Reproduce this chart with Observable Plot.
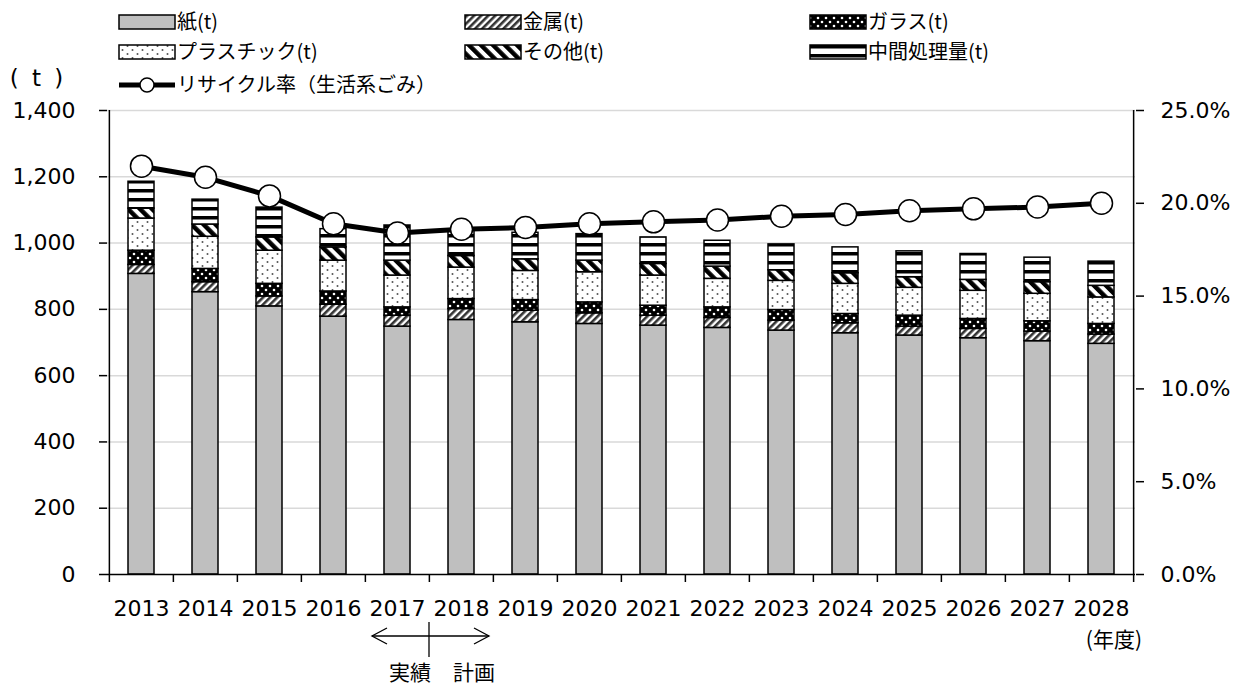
<!DOCTYPE html>
<html>
<head>
<meta charset="utf-8">
<script src="https://cdn.jsdelivr.net/npm/d3@7"></script>
<script src="https://cdn.jsdelivr.net/npm/@observablehq/plot@0.6"></script>
<style>
  html, body { margin: 0; padding: 0; background: #fff; }
  #chart svg { display: block; }
</style>
</head>
<body>
<div id="chart"></div>
<script>
// Fiscal years
const years = ["2013","2014","2015","2016","2017","2018","2019","2020","2021","2022","2023","2024","2025","2026","2027","2028"];

// Resource collection by material (t)
const paper   = [907, 852, 809, 778, 748, 768, 761, 756, 751, 744, 736, 728, 721, 713, 704, 696];
const metal   = [27, 30, 30, 36, 33, 33, 35, 32, 30, 30, 30, 30, 27, 28, 29, 28];
const glass   = [43, 40, 38, 40, 25, 30, 32, 33, 30, 32, 32, 28, 33, 30, 31, 32];
const plastic = [97, 97, 100, 93, 96, 95, 88, 91, 91, 86, 88, 91, 84, 85, 83, 80];
const other   = [30, 37, 40, 40, 45, 35, 35, 35, 35, 37, 32, 32, 32, 33, 35, 35];
const interim = [81, 75, 90, 55, 106, 80, 80, 80, 80, 78, 78, 78, 78, 78, 74, 73];

// Recycling rate of household waste (%)
const recycleRate = [22.0, 21.4, 20.4, 18.9, 18.4, 18.6, 18.7, 18.9, 19.0, 19.1, 19.3, 19.4, 19.6, 19.7, 19.8, 20.0];

// Series names (legend order = stacking order, bottom to top)
const seriesNames = ["紙(t)", "金属(t)", "ガラス(t)", "プラスチック(t)", "その他(t)", "中間処理量(t)"];
const seriesFills = ["#bfbfbf", "url(#pat-metal)", "url(#pat-glass)", "url(#pat-plastic)", "url(#pat-other)", "url(#pat-interim)"];
const rateName = "リサイクル率（生活系ごみ）";

// Axis ticks
const leftTicks = [0, 200, 400, 600, 800, 1000, 1200, 1400];
const rightTicks = [0, 5, 10, 15, 20, 25];
const yMax = 1400, rateMax = 25;
const k = yMax / rateMax; // maps the percentage axis onto the tonnage axis

const seriesValues = [paper, metal, glass, plastic, other, interim];
const stackRows = seriesNames.flatMap((s, j) => years.map((year, i) => ({year, series: s, value: seriesValues[j][i]})));
const rateRows = years.map((year, i) => ({year, rate: recycleRate[i]}));

const W = 1247, H = 686;
const mL = 107, mR = 112, mT = 110, mB = 112;
const padIn = 0.59, padOut = 0.295;
const step = (W - mL - mR) / (years.length - padIn + 2 * padOut);

const numFont = "'DejaVu Sans', Verdana, sans-serif";
const jpFont = "'Noto Sans CJK JP', 'Noto Sans', sans-serif";

const plot = Plot.plot({
  width: W,
  height: H,
  marginLeft: mL,
  marginRight: mR,
  marginTop: mT,
  marginBottom: mB,
  style: {fontFamily: numFont, fontSize: "22px", color: "black", background: "white"},
  x: {domain: years, paddingInner: padIn, paddingOuter: padOut, label: null},
  y: {domain: [0, yMax], label: null},
  color: {domain: seriesNames, range: seriesFills},
  marks: [
    // horizontal gridlines
    Plot.ruleY(leftTicks.slice(1), {stroke: "#d9d9d9", strokeWidth: 1.5}),
    // stacked bars
    Plot.barY(stackRows, Plot.stackY({
      x: "year", y: "value", fill: "series", order: seriesNames,
      stroke: "black", strokeWidth: 1.5
    })),
    // axis lines
    Plot.ruleY([0], {stroke: "black", strokeWidth: 1.5}),
    Plot.ruleX([years[0]], {dx: -step / 2, stroke: "black", strokeWidth: 1.5}),
    Plot.ruleX([years[years.length - 1]], {dx: step / 2, stroke: "black", strokeWidth: 1.5}),
    // category boundary ticks
    Plot.ruleX(years, {x: d => d, y1: 0, y2: 0, dx: -step / 2, insetBottom: -8, stroke: "black", strokeWidth: 1.5}),
    Plot.ruleX([years[years.length - 1]], {x: d => d, y1: 0, y2: 0, dx: step / 2, insetBottom: -8, stroke: "black", strokeWidth: 1.5}),
    // axes
    Plot.axisY(leftTicks, {anchor: "left", tickSize: 8, tickPadding: 24, tickFormat: d3.format(","), label: null, fontSize: 22, strokeWidth: 1.5}),
    Plot.axisY(rightTicks.map(v => v * k), {anchor: "right", tickSize: 8, tickPadding: 17, tickFormat: d => (d / k).toFixed(1) + "%", label: null, fontSize: 22, strokeWidth: 1.5}),
    Plot.axisX({tickSize: 0, tickPadding: 26, label: null, fontSize: 22}),
    // recycling rate
    Plot.line(rateRows, {x: "year", y: d => d.rate * k, stroke: "black", strokeWidth: 5}),
    Plot.dot(rateRows, {x: "year", y: d => d.rate * k, r: 11, fill: "white", stroke: "black", strokeWidth: 1.5})
  ]
});

document.getElementById("chart").appendChild(plot);

const svg = d3.select(plot);

// fill patterns
const defs = svg.insert("defs", ":first-child");
function pat(id, w, h, transform) {
  const p = defs.append("pattern").attr("id", id).attr("patternUnits", "userSpaceOnUse")
    .attr("width", w).attr("height", h);
  if (transform) p.attr("patternTransform", transform);
  return p;
}
let p = pat("pat-metal", 5, 5, "rotate(45)");
p.append("rect").attr("width", 5).attr("height", 5).attr("fill", "white");
p.append("rect").attr("width", 2.6).attr("height", 5).attr("fill", "#333");

p = pat("pat-glass", 8, 8);
p.append("rect").attr("width", 8).attr("height", 8).attr("fill", "black");
p.append("circle").attr("cx", 2).attr("cy", 2).attr("r", 1.3).attr("fill", "white");
p.append("circle").attr("cx", 6).attr("cy", 6).attr("r", 1.3).attr("fill", "white");

p = pat("pat-plastic", 10, 8);
p.append("rect").attr("width", 10).attr("height", 8).attr("fill", "white");
p.append("circle").attr("cx", 2.5).attr("cy", 2).attr("r", 1).attr("fill", "#555");
p.append("circle").attr("cx", 7.5).attr("cy", 6).attr("r", 1).attr("fill", "#555");

p = pat("pat-other", 8.5, 8.5, "rotate(-45)");
p.append("rect").attr("width", 8.5).attr("height", 8.5).attr("fill", "white");
p.append("rect").attr("width", 4.5).attr("height", 8.5).attr("fill", "black");

p = pat("pat-interim", 6, 9);
p.append("rect").attr("width", 6).attr("height", 9).attr("fill", "white");
p.append("rect").attr("y", 0).attr("width", 6).attr("height", 3.5).attr("fill", "black");

// legend
const legend = svg.append("g").attr("font-family", jpFont).attr("font-size", 20)
  .attr("fill", "black").attr("text-anchor", "start");
const colX = [119, 465, 810];
const rowY = [22, 52];
seriesNames.forEach((name, i) => {
  const cx = colX[i % 3], cy = rowY[Math.floor(i / 3)];
  legend.append("rect").attr("x", cx).attr("y", cy - 7).attr("width", 56).attr("height", 14)
    .attr("fill", seriesFills[i]).attr("stroke", "black").attr("stroke-width", 1.5);
  legend.append("text").attr("x", cx + 58).attr("y", cy).attr("dy", "0.35em").text(name);
});
legend.append("line").attr("x1", 119).attr("x2", 175).attr("y1", 85).attr("y2", 85)
  .attr("stroke", "black").attr("stroke-width", 5);
legend.append("circle").attr("cx", 147).attr("cy", 85).attr("r", 7)
  .attr("fill", "white").attr("stroke", "black").attr("stroke-width", 1.5);
legend.append("text").attr("x", 177).attr("y", 85).attr("dy", "0.35em").text(rateName);

// unit labels
svg.append("text").attr("x", 38).attr("y", 78).attr("dy", "0.35em").attr("text-anchor", "middle")
  .attr("font-family", numFont).attr("font-size", 23).attr("letter-spacing", 3).text("( t )");
svg.append("text").attr("x", 1142).attr("y", 640).attr("dy", "0.35em").attr("text-anchor", "end")
  .attr("font-family", jpFont).attr("font-size", 21).text("(年度)");

// actual / planned divider under the axis
const sx = plot.scale("x");
const st = sx.apply(years[5]) - sx.apply(years[4]);
const bx = sx.apply(years[5]) - (st - sx.bandwidth) / 2;
const ann = svg.append("g").attr("stroke", "black").attr("stroke-width", 1.3).attr("fill", "none");
ann.append("line").attr("x1", bx - 57).attr("x2", bx + 60).attr("y1", 636).attr("y2", 636);
ann.append("line").attr("x1", bx).attr("x2", bx).attr("y1", 622).attr("y2", 657);
ann.append("polyline").attr("points", `${bx - 42},628 ${bx - 57},636 ${bx - 42},644`);
ann.append("polyline").attr("points", `${bx + 45},628 ${bx + 60},636 ${bx + 45},644`);
svg.append("text").attr("x", bx - 19).attr("y", 673).attr("dy", "0.35em").attr("text-anchor", "middle")
  .attr("font-family", jpFont).attr("font-size", 21).text("実績");
svg.append("text").attr("x", bx + 45).attr("y", 673).attr("dy", "0.35em").attr("text-anchor", "middle")
  .attr("font-family", jpFont).attr("font-size", 21).text("計画");
</script>
</body>
</html>
